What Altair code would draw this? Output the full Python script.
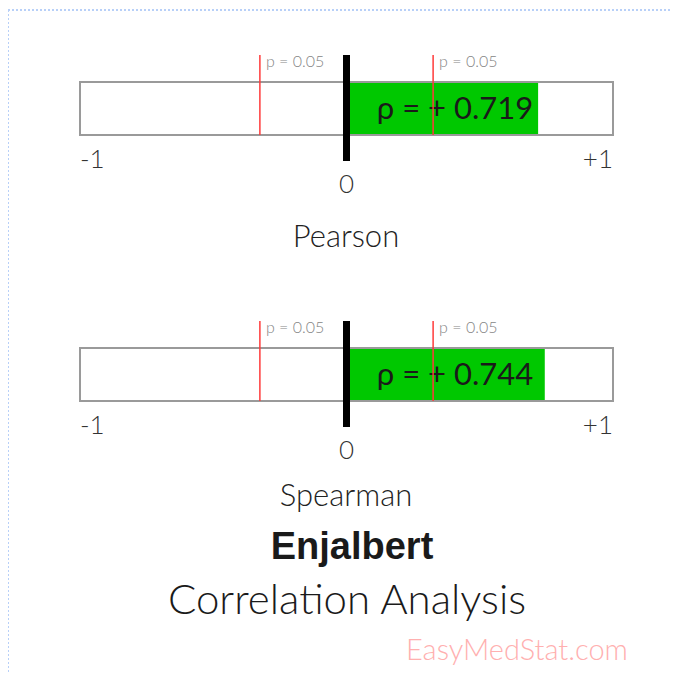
import altair as alt
import pandas as pd

# ---- data ----
methods = ["Pearson", "Spearman"]
rho_values = [0.719, 0.744]
crit_values = [0.325, 0.325]          # r threshold for p = 0.05
p_label = "p = 0.05"
tick_values = [-1, 0, 1]
tick_labels = ["-1", "0", "+1"]
title_main = "Enjalbert"
title_sub = "Correlation Analysis"
watermark = "EasyMedStat.com"

df = pd.DataFrame({
    "method": methods,
    "rho": rho_values,
    "crit": crit_values,
})
df["negcrit"] = -df["crit"]
df["lo"] = tick_values[0]
df["zero"] = tick_values[1]
df["hi"] = tick_values[2]
df["rholabel"] = ["ρ = + " + f"{v:.3f}" for v in rho_values]
df["plabel"] = p_label

W, H = 662, 665
xscale = alt.Scale(domain=[-1, 1], range=[72, 605], nice=False, zero=False)
FONT = "Lato"

base = alt.Chart(df)

def X(field):
    return alt.X(f"{field}:Q", scale=xscale, axis=None)

layers = []
for i, m in enumerate(methods):
    dy = 266 * i
    b = base.transform_filter(alt.datum.method == m)
    bar_top, bar_bot = 74 + dy, 127 + dy
    frame = b.mark_rect(fill="white", stroke="#9a9a9a", strokeWidth=2).encode(
        x=X("lo"), x2="hi", y=alt.value(bar_top), y2=alt.value(bar_bot))
    green = b.mark_rect(fill="#00c800", stroke=None).encode(
        x=X("zero"), x2="rho", y=alt.value(bar_top + 1), y2=alt.value(bar_bot - 1))
    txt = b.mark_text(font=FONT, fontSize=31, align="center", baseline="middle",
                      color="#1a1a1a").encode(
        x=alt.value(447), y=alt.value((bar_top + bar_bot) / 2 + 1), text="rholabel:N")
    red_r = b.mark_rule(color="#ff3b3b", strokeWidth=1.5).encode(
        x=X("crit"), y=alt.value(47 + dy), y2=alt.value(bar_bot))
    red_l = b.mark_rule(color="#ff3b3b", strokeWidth=1.5).encode(
        x=X("negcrit"), y=alt.value(47 + dy), y2=alt.value(bar_bot))
    pl_r = b.mark_text(font=FONT, fontSize=16, align="left", baseline="middle",
                       color="#858585", dx=6, fontWeight=300).encode(
        x=X("crit"), y=alt.value(54 + dy), text="plabel:N")
    pl_l = b.mark_text(font=FONT, fontSize=16, align="left", baseline="middle",
                       color="#858585", dx=6, fontWeight=300).encode(
        x=X("negcrit"), y=alt.value(54 + dy), text="plabel:N")
    zero = b.mark_rule(color="black", strokeWidth=7).encode(
        x=X("zero"), y=alt.value(47 + dy), y2=alt.value(153 + dy))
    t_lo = b.mark_text(font=FONT, fontSize=26, align="left", baseline="middle",
                       color="#333333", dx=0, fontWeight=300).encode(
        x=X("lo"), y=alt.value(152 + dy), text=alt.value(tick_labels[0]))
    t_hi = b.mark_text(font=FONT, fontSize=26, align="right", baseline="middle",
                       color="#333333", dx=0, fontWeight=300).encode(
        x=X("hi"), y=alt.value(152 + dy), text=alt.value(tick_labels[2]))
    t_0 = b.mark_text(font=FONT, fontSize=26, align="center", baseline="middle",
                      color="#333333", fontWeight=300).encode(
        x=X("zero"), y=alt.value(177 + dy), text=alt.value(tick_labels[1]))
    name = b.mark_text(font=FONT, fontSize=31, align="center", baseline="middle",
                       color="#222222", fontWeight=300).encode(
        x=alt.value(338), y=alt.value(230 + 259 * i), text="method:N")
    layers += [frame, green, txt, red_r, red_l, pl_r, pl_l, zero, t_lo, t_hi, t_0, name]

one = alt.Chart(pd.DataFrame({"t": [title_main]}))
main = one.mark_text(font="Liberation Sans", fontSize=38, fontWeight="bold",
                     align="center", baseline="middle", color="#1a1a1a").encode(
    x=alt.value(344), y=alt.value(540), text=alt.value(title_main))
sub = one.mark_text(font=FONT, fontSize=42, fontWeight=300,
                    align="center", baseline="middle", color="#1a1a1a").encode(
    x=alt.value(339), y=alt.value(593), text=alt.value(title_sub))
wm = one.mark_text(font=FONT, fontSize=29, fontWeight=300,
                   align="center", baseline="middle", color="#ffb0b0").encode(
    x=alt.value(509), y=alt.value(643), text=alt.value(watermark))
border_top = one.mark_rule(color="#b8d0f8", strokeWidth=2, strokeDash=[2, 2]).encode(
    x=alt.value(0), x2=alt.value(W + 10), y=alt.value(2))
border_left = one.mark_rule(color="#b8d0f8", strokeWidth=2, strokeDash=[2, 2]).encode(
    x=alt.value(0), y=alt.value(2), y2=alt.value(H + 10))

chart = alt.layer(*layers, main, sub, wm, border_top, border_left).properties(
    width=W, height=H, padding=0, autosize=alt.AutoSizeParams(type="none")
).configure_view(stroke=None)

chart.save("out.html", embed_options={"renderer": "svg", "actions": False})
